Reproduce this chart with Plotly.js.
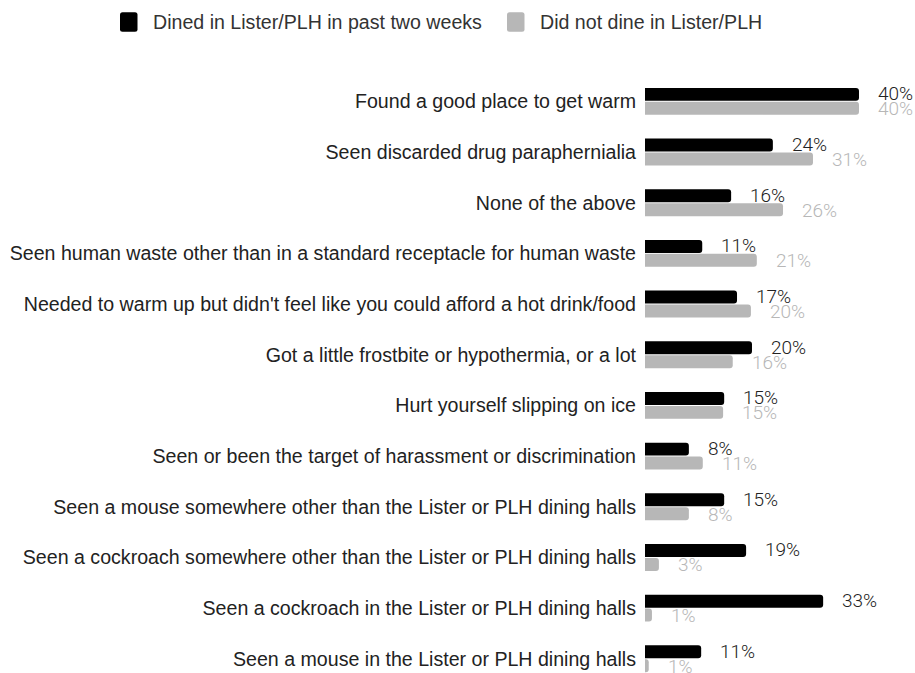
<!DOCTYPE html>
<html>
<head>
<meta charset="utf-8">
<script src="https://cdn.plot.ly/plotly-3.0.1.min.js"></script>
<style>html,body{margin:0;padding:0;background:#fff;}#chart{width:915px;height:673px;}</style>
</head>
<body>
<div id="chart"></div>
<script>
const categories = [
  "Found a good place to get warm",
  "Seen discarded drug paraphernialia",
  "None of the above",
  "Seen human waste other than in a standard receptacle for human waste",
  "Needed to warm up but didn't feel like you could afford a hot drink/food",
  "Got a little frostbite or hypothermia, or a lot",
  "Hurt yourself slipping on ice",
  "Seen or been the target of harassment or discrimination",
  "Seen a mouse somewhere other than the Lister or PLH dining halls",
  "Seen a cockroach somewhere other than the Lister or PLH dining halls",
  "Seen a cockroach in the Lister or PLH dining halls",
  "Seen a mouse in the Lister or PLH dining halls"
];
const dined = [40, 23.9, 16.1, 10.7, 17.2, 20.0, 14.8, 8.2, 14.8, 18.9, 33.3, 10.5];
const notDined = [40, 31.4, 25.8, 20.9, 19.8, 16.4, 14.6, 10.8, 8.2, 2.6, 1.3, 0.7];
const seriesNames = ["Dined in Lister/PLH in past two weeks", "Did not dine in Lister/PLH"];

const black = "#000000";
const grey = "#b7b7b7";
const colors = [black, grey];

const W = 915, H = 673;
const M = {l: 645, r: 0, t: 76, b: 0};
const PW = W - M.l - M.r, PH = H - M.t - M.b;
// pixel -> paper helpers (for legend placement only)
const px = p => (p - M.l) / PW;
const py = p => (H - M.b - p) / PH;

const traces = [
  {type: "bar", orientation: "h", name: seriesNames[0], y: categories, x: dined,
   marker: {color: black, cornerradius: 3}, hoverinfo: "x", showlegend: false},
  {type: "bar", orientation: "h", name: seriesNames[1], y: categories, x: notDined,
   marker: {color: grey, cornerradius: 3}, hoverinfo: "x", showlegend: false}
];

const annotations = [];
categories.forEach((c, i) => {
  annotations.push({x: dined[i], y: c, xref: "x", yref: "y", text: Math.round(dined[i]) + "%",
    showarrow: false, xanchor: "left", yanchor: "middle", xshift: 17, yshift: 7.5,
    font: {family: "Roboto", size: 19, weight: 300, color: "#222222"}});
  annotations.push({x: notDined[i], y: c, xref: "x", yref: "y", text: Math.round(notDined[i]) + "%",
    showarrow: false, xanchor: "left", yanchor: "middle", xshift: 17, yshift: -7.5,
    font: {family: "Roboto", size: 19, weight: 300, color: grey}});
});

// custom legend (rounded swatches + labels)
function roundRect(x0, y0, x1, y1, r) {
  const X0 = px(x0), X1 = px(x1), Y0 = py(y0), Y1 = py(y1);
  const rx = r / PW, ry = r / PH;
  return `M${X0 + rx},${Y0} L${X1 - rx},${Y0} Q${X1},${Y0} ${X1},${Y0 - ry} L${X1},${Y1 + ry} Q${X1},${Y1} ${X1 - rx},${Y1} L${X0 + rx},${Y1} Q${X0},${Y1} ${X0},${Y1 + ry} L${X0},${Y0 - ry} Q${X0},${Y0} ${X0 + rx},${Y0} Z`;
}
const legendSwatchX = [120, 507];
const legendTextX = [151, 538];
const shapes = [];
seriesNames.forEach((n, i) => {
  shapes.push({type: "path", xref: "paper", yref: "paper",
    path: roundRect(legendSwatchX[i], 12.3, legendSwatchX[i] + 17.5, 31.7, 2.5),
    fillcolor: colors[i], line: {width: 0}});
  annotations.push({xref: "paper", yref: "paper", x: px(legendTextX[i]), y: py(22),
    xanchor: "left", yanchor: "middle", showarrow: false, text: n,
    font: {family: "Liberation Sans, Arial, sans-serif", size: 19.6, color: "#333333"}});
});

const layout = {
  width: W, height: H,
  margin: {l: M.l, r: M.r, t: M.t, b: M.b, pad: 0, autoexpand: false},
  paper_bgcolor: "#ffffff", plot_bgcolor: "#ffffff",
  barmode: "group", bargap: 0.45, bargroupgap: 0.07,
  xaxis: {range: [0, 50.47], showgrid: false, zeroline: false, showticklabels: false, showline: false, fixedrange: true},
  yaxis: {type: "category", range: [11.28, -0.5], showgrid: false, zeroline: false, showline: false,
    ticks: "", ticklabelstandoff: 8, automargin: false,
    tickfont: {family: "Liberation Sans, Arial, sans-serif", size: 19.6, color: "#222222"}},
  showlegend: false,
  shapes: shapes,
  annotations: annotations,
  font: {family: "Liberation Sans, Arial, sans-serif"}
};

Plotly.newPlot("chart", traces, layout, {displayModeBar: false, staticPlot: true});
</script>
</body>
</html>
